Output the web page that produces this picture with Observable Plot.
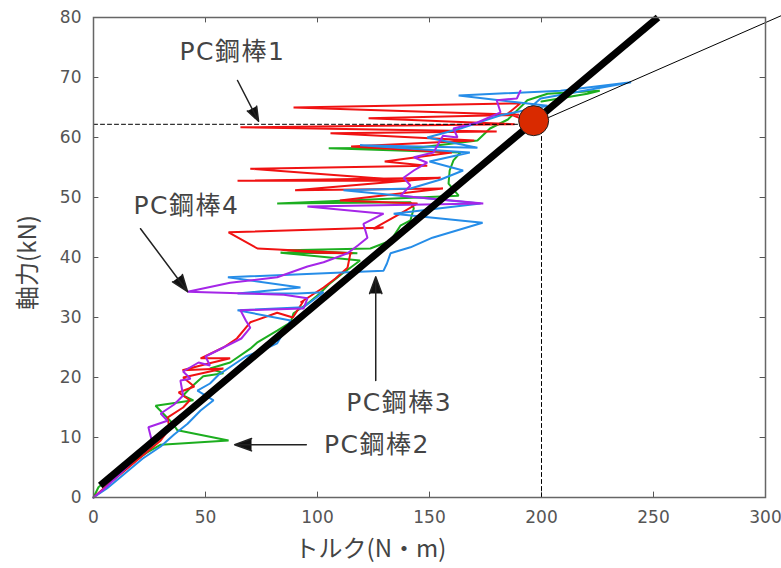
<!DOCTYPE html>
<html><head><meta charset="utf-8">
<script src="https://cdn.jsdelivr.net/npm/d3@7"></script>
<script src="https://cdn.jsdelivr.net/npm/@observablehq/plot@0.6"></script>
<style>body{margin:0;background:#fff}#chart svg{display:block}</style>
</head><body><div id="chart"></div>
<script>
// Axis ticks
const xTicks = [0, 50, 100, 150, 200, 250, 300];
const yTicks = [0, 10, 20, 30, 40, 50, 60, 70, 80];

// PC鋼棒1 (red)
const redX = [0,6,14,22,30,34,33,40,43,38,45,40,58,39.7,50,61,47.8,58,64,70,82,89,93.8,92.4,102.7,108,113.4,114.7,83.5,100,115.6,73.2,60.3,129.5,125,137,144.6,110,156,90,155,64.3,141.5,70,149,130,160,115,170,105.8,180,65.6,188,122.8,190,89.3,190.6,185,192];
const redY = [0,2,4.5,7,9.5,11.5,13.3,15,16.2,17.5,18.5,20,21.5,21.2,22.2,23.2,23.2,25,26.5,29.2,30.8,30,32.8,32.5,35,36.5,38.3,40.7,41.3,40.8,40.7,41.5,44.2,45,44.8,47.3,49,49.5,51.5,51.2,53.3,52.8,52.8,54.8,55.3,56,57.5,58.5,59.5,60.7,61,61.7,62.2,63.2,63.8,65,65.7,64,63];

// PC鋼棒2 (green)
const greenX = [0,2.2,8,16,24,30,60.3,37.5,35,27.7,44.6,40,43.3,49,58,52,61,70,73,82,88,89.3,95.5,101,105,110,119,83.5,117.8,86.6,123.6,132.6,137,141.5,143,141.5,82,163,158.5,159,160.7,163.8,105,144.6,171.4,177,185,193.7,202.7,226,220.5,200];
const greenY = [0,1.7,3.5,5.5,7.5,8.8,9.5,11.2,12.5,15.3,16.2,17,18.3,20.2,20.7,21.5,22.5,24.8,25.8,27.8,29.2,30.7,32.3,34,35.5,37,39.5,40.8,40.7,41.2,41.5,42.8,45.3,46.2,48.2,49.2,49,50.3,52.3,54.5,56.2,57.5,58.2,58.3,59.5,61.5,63,66.2,67.3,67.8,67.3,66];

// PC鋼棒3 (blue)
const blueX = [0,6,14,22,30,36,42,47.8,53.6,46.4,52,56,62,68,75,82,88,64.3,93.8,102.7,91,64.3,92.4,60,129.5,131,132.6,141.5,151.3,173.7,134,172.8,145,111.6,141.5,155,165,150,168,119,171.4,149,163.8,181.7,202.7,163,208.5,240,199.6,195];
const blueY = [0,1.5,4,6.5,8.5,10.5,12.3,14.5,16.2,17.8,19,20.5,22,23.5,24.5,25.7,29.5,31.2,31.7,34.2,34,34,35,36.7,37.8,39,40.7,41.7,43.3,45.8,47.3,49,50,51.2,51.5,53,54.5,56,57.5,58.7,58.3,60,61.5,63.7,65.3,67,67.8,69.2,66.5,65];

// PC鋼棒4 (purple)
const purpleX = [0,5,12,20,26,24.5,33,30,36,40,38.8,43.3,40,46.9,52,50,58,66,70,68,65.6,93.8,95.5,85,42,61,82,95.5,102.7,113.4,118,122.3,120.5,129.5,95.5,174,137,138.4,141.5,138.4,143,149,143,151.8,156,162.5,160.7,171.4,181.7,180,189,190.6];
const purpleY = [0,1.5,4,7,9.5,11.7,12.8,14,15.5,17,19.5,19.8,21,22.5,22,23.5,25,26.5,28.3,29.5,31.2,31.5,33.2,33.8,34.3,35.8,36.7,38.5,39.2,40.7,42,43.3,45.6,47.3,48.5,49,50.3,50.8,52,53.3,54.5,55.8,56.7,57.5,60.3,60,61.5,62.5,64.2,66.2,66.5,67.8];

// Reference line (thick black), limit point, guides
const refLineX = [3, 252];
const refLineY = [2, 80];
const limitX = [196.5];
const limitY = [62.8];
const hGuideX = [0, 190];
const hGuideY = [62.2, 62.2];
const vGuideX = [200, 200];
const vGuideY = [0, 61];
const leaderX = [203, 307];
const leaderY = [63.3, 80.3];

// Annotations
const labelText = ["PC鋼棒1", "PC鋼棒4", "PC鋼棒3", "PC鋼棒2"];
const labelX = [62, 41.5, 136.5, 126.5];
const labelY = [74.2, 48.6, 15.8, 8.7];
const arrowX1 = [64.3, 21, 126, 95];
const arrowY1 = [69.5, 44.8, 19.5, 8.8];
const arrowX2 = [73.7, 42, 126, 63];
const arrowY2 = [62.7, 34.3, 36.8, 8.8];

const zip = (xs, ys) => xs.map((x, i) => ({x, y: ys[i]}));
const seriesDefs = [
  {name: "PC鋼棒2", xs: greenX, ys: greenY, color: "#1cae1f"},
  {name: "PC鋼棒1", xs: redX, ys: redY, color: "#f01212"},
  {name: "PC鋼棒3", xs: blueX, ys: blueY, color: "#268de8"},
  {name: "PC鋼棒4", xs: purpleX, ys: purpleY, color: "#a526e8"}
];
const labels = labelText.map((t, i) => ({t, x: labelX[i], y: labelY[i]}));
const arrows = arrowX1.map((x1, i) => ({x1, y1: arrowY1[i], x2: arrowX2[i], y2: arrowY2[i]}));

const cjk = "'Noto Sans CJK JP', 'Noto Sans', sans-serif";
const mixed = "'DejaVu Sans', 'Noto Sans CJK JP', sans-serif";
const plot = Plot.plot({
  width: 781, height: 568,
  marginTop: 17, marginBottom: 71, marginLeft: 93, marginRight: 16,
  style: {fontFamily: "'DejaVu Sans', sans-serif", fontSize: "17px", color: "#555", background: "white"},
  x: {domain: [0, 300], ticks: xTicks, tickSize: 0, tickPadding: 13, label: null},
  y: {domain: [0, 80], ticks: yTicks, tickSize: 0, tickPadding: 12, label: null},
  marks: [
    Plot.ruleX(xTicks.slice(1, -1), {y1: 0, y2: 0.9, stroke: "#555", strokeWidth: 1}),
    Plot.ruleX(xTicks.slice(1, -1), {y1: 80, y2: 79.1, stroke: "#555", strokeWidth: 1}),
    Plot.ruleY(yTicks.slice(1, -1), {x1: 0, x2: 2.4, stroke: "#555", strokeWidth: 1}),
    Plot.ruleY(yTicks.slice(1, -1), {x1: 300, x2: 297.6, stroke: "#555", strokeWidth: 1}),
    ...seriesDefs.map(s => Plot.line(zip(s.xs, s.ys), {x: "x", y: "y", stroke: s.color, strokeWidth: 2, strokeLinejoin: "miter"})),
    Plot.line(zip(hGuideX, hGuideY), {x: "x", y: "y", stroke: "#000", strokeWidth: 1, strokeDasharray: "4,3"}),
    Plot.line(zip(vGuideX, vGuideY), {x: "x", y: "y", stroke: "#000", strokeWidth: 1, strokeDasharray: "4,3"}),
    Plot.line(zip(leaderX, leaderY), {x: "x", y: "y", stroke: "#000", strokeWidth: 1}),
    Plot.line(zip(refLineX, refLineY), {x: "x", y: "y", stroke: "#000", strokeWidth: 7, strokeLinecap: "butt"}),
    Plot.dot(zip(limitX, limitY), {x: "x", y: "y", r: 15, fill: "#d92a00", stroke: "#222", strokeWidth: 1}),
    Plot.arrow(arrows, {x1: "x1", y1: "y1", x2: "x2", y2: "y2", stroke: "#222", fill: "#111", strokeWidth: 1.5, headLength: 18, headAngle: 40}),
    Plot.text(labels, {x: "x", y: "y", text: "t", fontSize: 25, fill: "#444", fontFamily: mixed}),
    Plot.frame({stroke: "#666", strokeWidth: 1.5}),
    Plot.text(["トルク(N・m)"], {frameAnchor: "bottom", lineAnchor: "middle", dx: -59, dy: 52, fontSize: 24, fill: "#444", fontFamily: cjk}),
    Plot.text(["軸力(kN)"], {frameAnchor: "left", textAnchor: "middle", lineAnchor: "middle", dx: -65, dy: 5, rotate: -90, fontSize: 24, fill: "#444", fontFamily: cjk})
  ]
});
plot.querySelectorAll("text").forEach(t => { if (t.textContent.startsWith("PC")) t.setAttribute("letter-spacing", "1.5"); });
document.getElementById("chart").append(plot);
</script>
</body></html>
